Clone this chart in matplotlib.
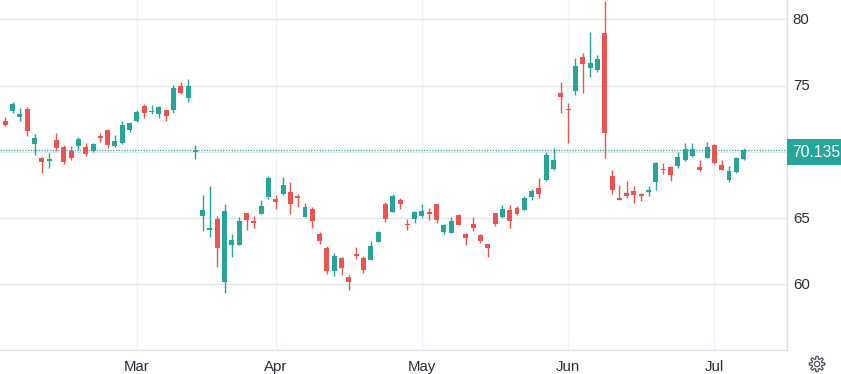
import numpy as np
from matplotlib import pyplot as plt
from matplotlib.patches import Rectangle
from matplotlib.transforms import ScaledTranslation

plt.rcParams['font.family'] = ['Liberation Sans', 'DejaVu Sans']

# one row per session
opens = [72.33,73.11,72.66,73.24,70.62,69.54,69.34,70.90,70.37,70.07,70.47,70.37,70.09,71.20,71.65,70.47,70.67,71.65,72.33,73.46,73.01,72.86,73.16,73.16,74.97,74.07,
         70.00,65.15,64.09,64.92,60.17,62.96,62.96,65.38,64.77,65.30,66.58,66.43,66.81,66.96,66.66,65.08,65.68,63.79,62.74,61.00,61.98,60.55,62.28,61.98,61.83,63.19,66.06,
         65.45,66.36,64.55,64.92,65.15,65.45,66.06,63.94,63.87,65.23,63.79,64.55,63.72,63.04,65.38,65.08,65.60,65.75,65.60,66.59,67.27,67.88,68.70,
         74.44,73.23,74.59,77.15,76.32,76.17,78.97,68.17,66.51,66.89,67.04,66.82,66.97,67.72,68.70,68.85,68.93,69.38,69.68,68.85,69.53,70.51,69.00,67.87,68.48,69.45]
closes = [72.03,73.61,72.86,71.60,71.05,69.26,69.46,70.32,69.26,69.56,70.97,69.86,70.59,71.07,70.54,70.82,72.03,72.18,73.01,72.93,73.08,73.39,72.71,74.82,74.44,74.97,
          70.17,65.60,64.25,62.74,65.53,63.34,64.77,64.85,64.62,65.91,68.02,66.21,67.49,66.06,66.51,65.83,64.77,63.26,61.00,62.13,61.23,60.17,62.13,61.08,62.89,63.94,64.92,
          66.66,66.06,64.50,65.45,65.53,65.30,64.85,64.47,64.77,64.47,63.49,64.25,63.26,62.74,64.55,65.68,64.77,65.30,66.51,67.04,66.82,69.76,69.38,
          74.14,73.18,76.48,76.63,76.70,77.00,71.42,67.12,66.36,66.66,66.74,66.66,67.12,69.15,68.65,68.25,69.61,70.21,70.21,68.63,70.36,69.15,68.63,68.55,69.53,70.13]
highs = [72.63,73.76,73.31,73.39,71.35,69.61,69.91,71.42,70.52,70.44,71.12,70.67,70.67,71.42,71.73,71.27,72.33,72.25,73.16,73.61,73.54,73.46,73.16,75.05,75.27,75.50,
         70.52,66.74,67.42,65.15,66.06,63.79,65.08,65.38,65.15,66.36,68.17,66.74,68.09,67.72,66.81,66.13,65.83,63.94,62.89,62.36,62.06,60.70,62.81,62.13,63.26,64.02,66.21,
         66.81,66.51,64.92,65.53,66.06,65.75,66.06,64.55,65.08,65.30,63.87,65.08,63.79,63.04,65.38,65.98,65.98,65.91,66.66,67.19,68.02,69.98,70.29,
         75.27,73.68,77.08,77.46,79.04,77.31,81.38,68.63,67.49,67.80,67.42,66.89,67.42,69.23,69.15,68.93,69.98,70.66,70.66,69.38,70.74,70.59,69.38,68.93,69.61,70.28]
lows = [71.95,72.96,72.35,71.22,69.79,68.43,68.81,70.09,69.11,69.41,70.17,69.71,70.02,70.74,70.32,70.39,70.62,71.52,72.25,72.56,72.86,72.56,72.33,72.93,74.37,73.76,
        69.46,64.02,63.57,61.30,59.34,62.06,62.96,64.09,64.25,65.30,66.43,65.68,66.74,65.30,65.83,65.08,64.25,63.04,60.77,60.62,60.70,59.57,61.91,60.85,61.83,63.19,64.70,
        65.45,65.68,64.09,64.62,65.00,64.85,64.62,63.79,63.87,64.47,62.96,64.02,63.11,62.06,64.40,65.00,64.25,65.23,65.60,66.34,66.52,67.80,68.63,
        72.93,70.66,74.29,74.44,75.65,76.02,69.53,66.82,66.36,66.51,66.14,66.29,66.66,67.12,68.32,67.80,68.78,69.31,69.61,68.55,69.53,69.08,68.63,67.72,68.40,69.38]

month_labels = ['Mar', 'Apr', 'May', 'Jun', 'Jul']
month_pos = [18, 37, 57, 77, 97]
price_ticks = [60, 65, 70, 75, 80]
price_labels = ['60', '65', '', '75', '80']  # 70 sits under the price tag
last_price = 70.135

green = '#26a69a'
red = '#ef5350'
text_col = '#2a2e39'
border = '#e0e3eb'

fig = plt.figure(figsize=(8.41, 3.74), dpi=100)
ax = fig.add_axes([0, 24/374, 787/841, 350/374])

x = np.arange(len(opens))
o = np.array(opens)
c = np.array(closes)
cols = [green if c[i] >= o[i] else red for i in x]

ax.vlines(x, lows, highs, colors=cols, linewidth=1.0, zorder=3)
ax.bar(x, np.abs(c-o), bottom=np.minimum(o, c), width=0.68, color=cols, linewidth=0, zorder=4)

ax.axhline(last_price, color=green, linewidth=0.9, linestyle=(0, (1, 1.2)), zorder=2)

# px = 5.3 + 7.31*i, py = 19.3 + 13.25*(80-p)
ax.set_xlim(-5.3/7.31, (787-5.3)/7.31)
ax.set_ylim(80-330.7/13.25, 80+19.3/13.25)

ax.set_xticks(month_pos)
ax.set_xticklabels(month_labels)
ax.set_yticks(price_ticks)
ax.set_yticklabels(price_labels)
ax.yaxis.tick_right()
ax.tick_params(axis='x', length=0, pad=7, labelsize=10.8, labelcolor=text_col)
ax.tick_params(axis='y', length=0, pad=4.2, labelsize=10.8, labelcolor=text_col)
up = ScaledTranslation(0, 1/100, fig.dpi_scale_trans)
for lab in ax.get_yticklabels():
    lab.set_transform(lab.get_transform() + up)
ax.grid(axis='y', color='#e6e6e8', linewidth=1.0, zorder=1)
ax.grid(axis='x', color='#f0f3fa', linewidth=1.0, zorder=1)
ax.set_axisbelow(True)
for s in ['top', 'left']:
    ax.spines[s].set_visible(False)
for s in ['right', 'bottom']:
    ax.spines[s].set_color(border)
    ax.spines[s].set_linewidth(1.0)

# overlay in pixels for the price tag and the settings gear
ov = fig.add_axes([0, 0, 1, 1], facecolor='none')
ov.set_xlim(0, 841)
ov.set_ylim(374, 0)
ov.set_axis_off()
ov.add_patch(Rectangle((787.5, 139), 53.5, 26, color=green, linewidth=0))
ov.text(816, 152.3, '70.135', color='white', fontsize=11.3, ha='center', va='center')

t = np.linspace(0, 2*np.pi, 961)
r = 6.4 + 1.3*np.clip(2.5*np.cos(8*t), -1, 1)
ov.plot(817 + r*np.cos(t), 364 + r*np.sin(t), color='#50535e', linewidth=0.9)
ov.add_patch(plt.Circle((817, 364), 2.6, fill=False, edgecolor='#50535e', linewidth=0.9))

fig.savefig('out.png', dpi=100)
